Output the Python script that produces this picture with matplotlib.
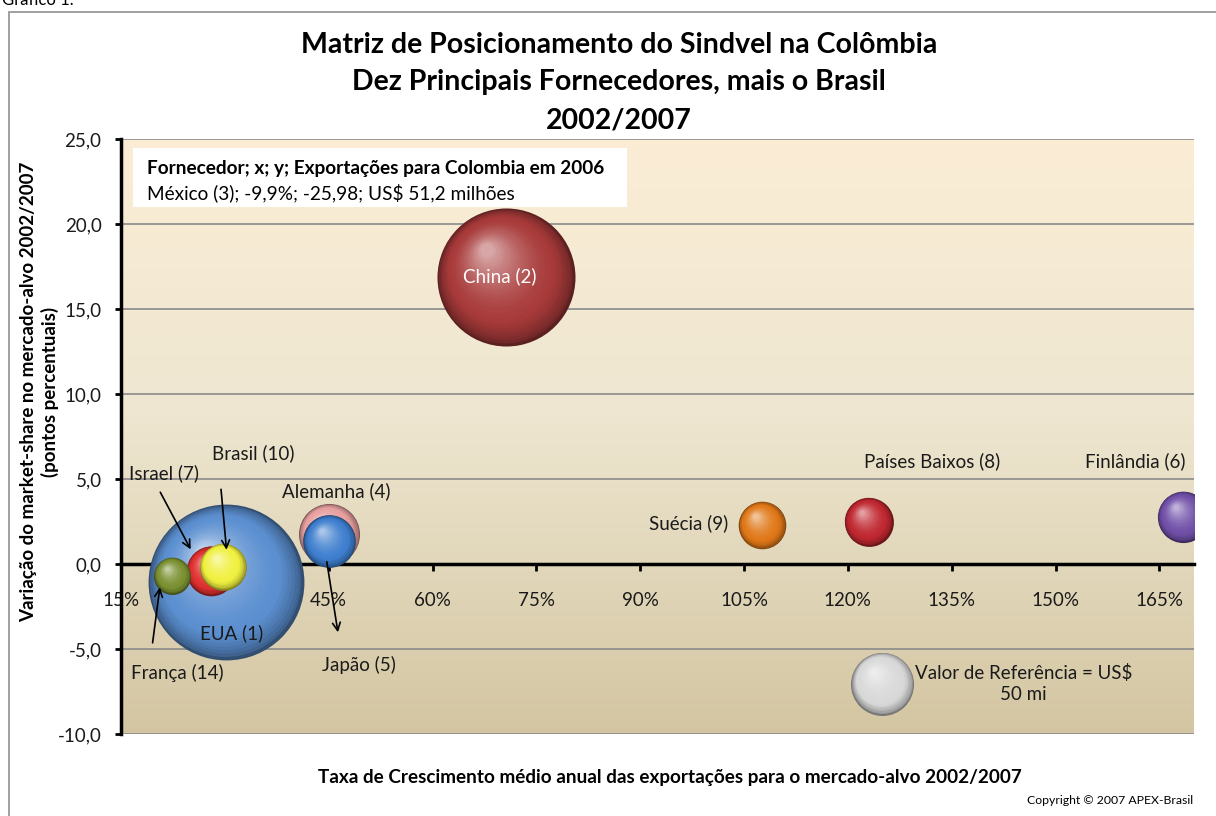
import numpy as np
import matplotlib
matplotlib.use("Agg")
import matplotlib.pyplot as plt
from matplotlib.colors import to_rgb, LinearSegmentedColormap
from matplotlib.transforms import ScaledTranslation
from matplotlib.patches import Rectangle

plt.rcParams['font.family'] = ['Lato', 'DejaVu Sans']

# data
countries = ["EUA (1)", "China (2)", "Alemanha (4)", "Japão (5)", "Finlândia (6)",
             "Israel (7)", "Países Baixos (8)", "Suécia (9)", "Brasil (10)", "França (14)"]
growth = [30.2, 70.6, 45.1, 45.1, 168.4, 28.0, 123.0, 107.6, 29.7, 22.4]        # % a.a.
share_change = [-1.06, 16.9, 1.76, 1.35, 2.79, -0.40, 2.50, 2.29, -0.15, -0.68]  # p.p.
exports = [306, 240, 47, 35, 33, 31, 30, 28.5, 27.5, 17.2]                        # US$ mi
colors = ["#5B8FD0", "#A83A3A", "#E8A0A0", "#3F7FCF", "#7050A8",
          "#E03030", "#C02830", "#E07818", "#F0F040", "#7A9030"]

ref_growth, ref_share, ref_value = 125.0, -7.03, 50

x_ticks = [15, 30, 45, 60, 75, 90, 105, 120, 135, 150, 165]
y_ticks = [-10, -5, 0, 5, 10, 15, 20, 25]

# label offsets from bubble centre (pixels, up = +), arrows as (tail, head) offsets
label_off = {
    "EUA (1)": (5, -51), "China (2)": (-6, 0), "Alemanha (4)": (7, 43),
    "Japão (5)": (30, -124), "Finlândia (6)": (-48, 55), "Israel (7)": (-47, 98),
    "Países Baixos (8)": (63, 60), "Suécia (9)": (-73, 2), "Brasil (10)": (30, 113),
    "França (14)": (5, -97),
}
arrows = {
    "Israel (7)": ((-52, 81), (-19, 19)),
    "Brasil (10)": ((-2, 80), (4, 14)),
    "França (14)": ((-20, -70), (-12, -9)),
    "Japão (5)": ((-3, -18), (9, -94)),
}

REF_R = 31.5  # px radius of the 50 mi reference bubble
LBL = 13.5

fig = plt.figure(figsize=(12.16, 8.16), dpi=100)
ax = fig.add_axes([121 / 1216, 1 - 734 / 816, (1194 - 121) / 1216, (734 - 139) / 816])

# background gradient of plot area
grad = LinearSegmentedColormap.from_list(
    "bg", [(0, (0.83, 0.775, 0.635)), (0.55, (0.935, 0.905, 0.82)), (1, (0.985, 0.93, 0.835))])
ax.imshow(np.linspace(0, 1, 256).reshape(-1, 1), cmap=grad, origin="lower",
          extent=[0, 1, 0, 1], transform=ax.transAxes, aspect="auto", zorder=0)

ax.set_xlim(15, 170)
ax.set_ylim(-10, 25)

for yv in y_ticks:
    ax.axhline(yv, color="#8a8a8a", lw=1.2, zorder=1)


def bubble(x, y, value, color, z):
    r = REF_R * np.sqrt(value / 50)
    base = np.array(to_rgb(color))
    dark = base * 0.55
    light = base + (1 - base) * 0.55
    n = 30
    for i in range(n):
        t = i / (n - 1)
        rad = r * (1 - 0.9 * t)
        dx, dy = -0.28 * r * t, 0.38 * r * t
        if t < 0.25:
            c = dark + (base - dark) * (t / 0.25) ** 0.6
        else:
            c = base + (light - base) * ((t - 0.25) / 0.75) ** 1.6
        tr = ax.transData + ScaledTranslation(dx / 100, dy / 100, fig.dpi_scale_trans)
        ax.scatter([x], [y], s=(2 * rad * 0.72) ** 2, color=np.clip(c, 0, 1),
                   linewidths=0, transform=tr, zorder=z, clip_on=True)


for k, name in enumerate(countries):
    bubble(growth[k], share_change[k], exports[k], colors[k], 3 + k * 0.01)
bubble(ref_growth, ref_share, ref_value, "#D8D8D8", 3)


def off(x, y, dx, dy):
    px = ax.transData.transform((x, y)) + np.array([dx, dy])
    return ax.transData.inverted().transform(px)


for k, name in enumerate(countries):
    lx, ly = off(growth[k], share_change[k], *label_off[name])
    ax.text(lx, ly, name, ha="center", va="center", fontsize=LBL,
            color="white" if name.startswith("China") else "#1a1a1a", zorder=6)
    if name in arrows:
        tail = off(growth[k], share_change[k], *arrows[name][0])
        head = off(growth[k], share_change[k], *arrows[name][1])
        ax.annotate("", xy=head, xytext=tail,
                    arrowprops=dict(arrowstyle="->", color="black", lw=1.2,
                                    mutation_scale=14), zorder=6)

rx, ry = off(ref_growth, ref_share, 141, 0)
ax.text(rx, ry, "Valor de Referência = US$\n50 mi", ha="center", va="center",
        fontsize=LBL, color="#1a1a1a", linespacing=1.25, zorder=6)

# legend-like note box
ax.add_patch(Rectangle((0.0112, 0.886), 0.4604, 0.099, transform=ax.transAxes,
                       facecolor="white", edgecolor="none", zorder=5))
ax.text(0.0242, 0.951, "Fornecedor; x; y; Exportações para Colombia em 2006",
        transform=ax.transAxes, fontsize=13.7, fontweight="bold", va="center", zorder=6)
ax.text(0.0242, 0.909, "México (3); -9,9%; -25,98; US$ 51,2 milhões",
        transform=ax.transAxes, fontsize=13.7, va="center", zorder=6)

# axes styling
for s in ["top", "right"]:
    ax.spines[s].set_visible(False)
ax.spines["left"].set_linewidth(2.5)
ax.spines["bottom"].set_position(("data", 0))
ax.spines["bottom"].set_linewidth(2.5)
ax.spines["bottom"].set_zorder(2)
ax.set_xticks(x_ticks)
ax.set_xticklabels([f"{v}%" for v in x_ticks])
ax.set_yticks(y_ticks)
ax.set_yticklabels([f"{v:.1f}".replace(".", ",") for v in y_ticks])
ax.tick_params(axis="x", direction="out", length=5, width=2, pad=15, labelsize=13.5,
               labelcolor="#1a1a1a")
ax.tick_params(axis="y", direction="out", length=4, width=2, pad=10, labelsize=13.5,
               labelcolor="#1a1a1a")

# titles and axis labels
for txt, yy in [("Matriz de Posicionamento do Sindvel na Colômbia", 45),
                ("Dez Principais Fornecedores, mais o Brasil", 82),
                ("2002/2007", 120)]:
    fig.text(619 / 1216, 1 - yy / 816, txt, ha="center", va="center",
             fontsize=20.5, fontweight="bold")
fig.text(40 / 1216, 1 - 392 / 816,
         "Variação do market-share no mercado-alvo 2002/2007\n(pontos percentuais)",
         rotation=90, ha="center", va="center", fontsize=13.5, fontweight="bold",
         linespacing=1.25)
fig.text(670 / 1216, 1 - 778 / 816,
         "Taxa de Crescimento médio anual das exportações para o mercado-alvo 2002/2007",
         ha="center", va="center", fontsize=13.6, fontweight="bold")
fig.text(1193 / 1216, 1 - 801 / 816, "Copyright © 2007 APEX-Brasil", ha="right",
         va="center", fontsize=8.8)
fig.text(0.002, 1.0, "Gráfico 1.", ha="left", va="center", fontsize=12)

fig.add_artist(Rectangle((9 / 1216, -0.05), 1.1, 1.05 - 12 / 816, transform=fig.transFigure,
                         facecolor="none", edgecolor="#999999", lw=1.3))

fig.savefig("out.png", dpi=100)
